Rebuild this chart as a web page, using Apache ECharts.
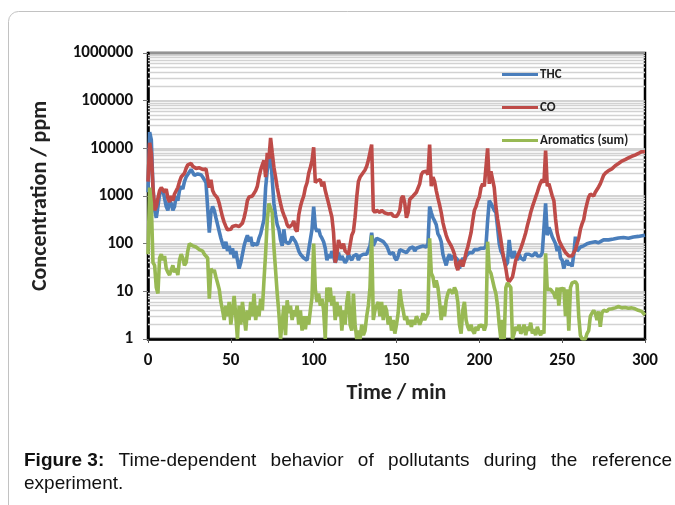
<!DOCTYPE html>
<html>
<head>
<meta charset="utf-8">
<script src="https://cdn.jsdelivr.net/npm/echarts@6/dist/echarts.min.js"></script>
<style>html,body{margin:0;padding:0;background:#fff}#c{width:675px;height:505px}</style>
</head>
<body>
<div id="c"></div>
<script>
// ---- data: [time (min), concentration (ppm)] ----
var xTicks = [0, 50, 100, 150, 200, 250, 300];
var yTicks = [1, 10, 100, 1000, 10000, 100000, 1000000];
var seriesNames = ['THC', 'CO', 'Aromatics (sum)'];
var captionLine1 = ['Figure 3:', 'Time-dependent', 'behavior', 'of', 'pollutants', 'during', 'the', 'reference'];
var captionLine2 = 'experiment.';

var thc = [[0,1200],[1,22000],[2,15000],[3,1500],[4,500],[5,350],[6,600],[7,1100],[8,1000],[9,1300],[10,900],[11,600],[12,500],[13,800],[14,700],[15,500],[16,600],[17,1000],[18,800],[19,1300],[20,1600],[21,1400],[22,2000],[23,2500],[24,2300],[25,3200],[26,3600],[27,3300],[28,2700],[29,2500],[30,2900],[31,3100],[32,2800],[33,2500],[34,2200],[35,1900],[36,1800],[37,170],[38,450],[39,600],[40,500],[41,350],[42,250],[43,180],[44,130],[45,100],[46,80],[47,110],[48,70],[49,90],[50,60],[51,80],[52,50],[53,70],[54,45],[55,30],[56,40],[57,60],[58,90],[59,120],[60,150],[61,110],[62,140],[63,90],[64,100],[65,110],[66,95],[67,130],[68,160],[69,170],[70,320],[71,1500],[72,3500],[73,5500],[74,7000],[75,2200],[76,700],[77,400],[78,250],[79,200],[80,120],[81,90],[82,200],[83,110],[84,120],[85,100],[86,115],[87,140],[88,150],[89,110],[90,90],[91,70],[92,60],[93,65],[94,50],[95,55],[96,45],[97,75],[98,80],[99,200],[100,600],[101,220],[102,180],[103,200],[104,150],[105,130],[106,110],[107,80],[108,45],[109,60],[110,50],[111,70],[112,55],[113,40],[114,50],[115,65],[116,45],[117,55],[118,50],[119,40],[120,45],[121,60],[122,50],[123,45],[124,55],[125,50],[126,60],[127,45],[128,55],[129,50],[130,60],[131,55],[132,60],[133,75],[134,90],[135,170],[136,90],[137,85],[138,130],[139,140],[140,120],[141,130],[142,110],[143,100],[144,90],[145,75],[146,60],[147,55],[148,65],[149,50],[150,45],[151,55],[152,75],[153,80],[154,70],[155,75],[156,65],[157,70],[158,80],[159,75],[160,85],[161,70],[162,80],[163,75],[164,85],[165,80],[166,90],[167,95],[168,85],[169,100],[170,600],[171,450],[172,350],[173,300],[174,250],[175,160],[176,140],[177,110],[178,60],[179,45],[180,35],[181,50],[182,60],[183,45],[184,55],[185,60],[186,50],[187,45],[188,30],[189,40],[190,50],[191,45],[192,55],[193,60],[194,65],[195,70],[196,65],[197,75],[198,70],[199,75],[200,70],[201,80],[202,85],[203,80],[204,90],[205,300],[206,800],[207,700],[208,750],[209,500],[210,450],[211,220],[212,100],[213,70],[214,60],[215,45],[216,35],[217,40],[218,120],[219,60],[220,50],[221,70],[222,55],[223,45],[224,60],[225,50],[226,55],[227,45],[228,60],[229,55],[230,60],[231,65],[232,55],[233,60],[234,65],[235,55],[236,60],[237,55],[238,65],[239,70],[240,700],[241,150],[242,220],[243,180],[244,140],[245,130],[246,100],[247,70],[248,90],[249,50],[250,45],[251,30],[252,40],[253,45],[254,35],[255,40],[256,33],[257,60],[258,140],[259,70],[260,75],[261,85],[262,80],[263,90],[264,95],[265,100],[266,95],[267,105],[268,100],[270,110],[272,105],[273,115],[275,120],[276,125],[278,120],[279,130],[281,125],[282,128],[284,132],[285,130],[287,135],[288,132],[290,130],[291,135],[293,138],[294,140],[296,142],[297,145],[299,148],[300,150]];

var co = [[0,2000],[1,13000],[2,8000],[3,1500],[4,500],[5,600],[6,900],[7,1300],[8,1500],[9,1400],[10,1200],[11,1400],[12,900],[13,750],[14,1000],[15,800],[16,1100],[17,1200],[18,1500],[19,2000],[20,2500],[21,2300],[22,3000],[23,3800],[24,4500],[25,4900],[26,4800],[27,4200],[28,4000],[29,3800],[30,4000],[31,3900],[32,3700],[33,3600],[34,3300],[35,3700],[36,3800],[37,1500],[38,2200],[39,1300],[40,1100],[41,1050],[42,900],[43,700],[44,500],[45,360],[46,280],[47,230],[48,195],[49,210],[50,200],[51,230],[52,210],[53,240],[54,220],[55,230],[56,250],[57,270],[58,350],[59,500],[60,800],[61,950],[62,950],[63,1000],[64,950],[65,1300],[66,1600],[67,2500],[68,3500],[69,4500],[70,5600],[71,2500],[72,8000],[73,6000],[74,16500],[75,8000],[76,4000],[77,2500],[78,1500],[79,1000],[80,700],[81,500],[82,400],[83,330],[84,250],[85,220],[86,200],[87,250],[88,300],[89,200],[90,180],[91,400],[92,600],[93,800],[94,1000],[95,1500],[96,1900],[97,3000],[98,4000],[99,5500],[100,10500],[101,1900],[102,2100],[103,2000],[104,2200],[105,1600],[106,2000],[107,1300],[108,950],[109,700],[110,500],[111,360],[112,170],[113,40],[114,60],[115,120],[116,90],[117,80],[118,100],[119,70],[120,65],[121,60],[122,55],[123,150],[124,180],[125,360],[126,950],[127,2000],[128,2500],[129,2800],[130,3000],[131,3500],[132,4200],[133,5600],[134,5500],[135,12000],[136,500],[137,450],[138,500],[139,480],[140,450],[141,500],[142,470],[143,440],[144,460],[145,420],[146,400],[147,430],[148,380],[149,400],[150,370],[151,420],[152,500],[153,900],[154,1000],[155,700],[156,350],[157,450],[158,850],[159,900],[160,1000],[161,1100],[162,1200],[163,1300],[164,1800],[165,2800],[166,3200],[167,3500],[168,3300],[169,2800],[170,12000],[171,1600],[172,2500],[173,2000],[174,1300],[175,900],[176,650],[177,450],[178,280],[179,200],[180,150],[181,120],[182,110],[183,90],[184,75],[185,60],[186,35],[187,28],[188,40],[189,45],[190,33],[191,45],[192,65],[193,85],[194,120],[195,170],[196,300],[197,500],[198,600],[199,800],[200,950],[201,1500],[202,1800],[203,1600],[204,1700],[205,10000],[206,1800],[207,3300],[208,3000],[209,1500],[210,600],[211,330],[212,200],[213,120],[214,70],[215,45],[216,30],[217,18],[218,16],[219,15],[220,20],[221,30],[222,45],[223,55],[224,65],[225,80],[226,100],[227,130],[228,170],[229,240],[230,320],[231,450],[232,590],[233,750],[234,950],[235,1200],[236,1550],[237,1900],[238,2200],[239,1900],[240,9000],[241,1600],[242,1800],[243,1900],[244,1000],[245,800],[246,330],[247,170],[248,120],[249,100],[250,85],[251,75],[252,65],[253,60],[254,55],[255,50],[256,55],[257,65],[258,75],[259,100],[260,130],[261,200],[262,260],[263,320],[264,500],[265,700],[266,950],[267,1100],[268,1150],[269,1000],[270,1200],[271,1100],[272,1550],[273,1800],[274,2200],[275,2700],[276,3000],[278,3400],[280,3700],[282,4300],[284,4800],[286,5400],[288,5800],[290,6300],[292,6800],[294,7200],[296,7800],[298,8500],[299,9200],[300,8500]];

var aromatics = [[0,60],[1,1500],[2,700],[3,40],[4,35],[5,12],[6,9],[7,50],[8,60],[9,45],[10,55],[11,30],[12,25],[13,22],[14,28],[15,35],[16,25],[17,30],[18,22],[19,45],[20,60],[21,50],[22,35],[23,40],[24,70],[25,100],[26,110],[27,90],[28,95],[29,85],[30,90],[31,75],[32,80],[33,70],[34,60],[35,55],[36,50],[37,7],[38,30],[39,25],[40,28],[41,20],[42,15],[43,11],[44,6],[45,4],[46,2.5],[47,5],[48,3],[49,6],[50,2],[51,4],[52,8],[53,3],[54,1],[55,5],[56,2],[57,6],[58,3],[59,1.5],[60,4],[61,2.5],[62,6],[63,3],[64,9],[65,2.5],[66,5],[67,3],[68,7],[69,4],[70,17],[71,63],[72,320],[73,700],[74,650],[75,450],[76,85],[77,28],[78,9],[79,3.5],[80,1],[81,1],[82,5],[83,1.2],[84,6.5],[85,3.5],[86,5],[87,2.5],[88,4],[89,3],[90,5],[91,2],[92,4],[93,1.5],[94,3],[95,1.6],[96,3],[97,2],[98,4],[99,7.5],[100,100],[101,11],[102,6],[103,9],[104,5],[105,7],[106,4],[107,1],[108,12],[109,6],[110,12],[111,5],[112,8],[113,2.5],[114,6],[115,3],[116,5],[117,1.5],[118,4],[119,2],[120,6],[121,10],[122,2],[123,1.5],[124,9],[125,2],[126,1],[127,1.5],[128,1],[129,2],[130,1.2],[131,1.5],[132,3],[133,5],[134,12],[135,150],[136,2.5],[137,4],[138,5],[139,6],[140,3],[141,6],[142,2.5],[143,5],[144,4],[145,2],[146,3],[147,1.5],[148,2.5],[149,1.3],[150,2],[151,3.5],[152,11],[153,6],[154,4],[155,2.5],[156,3],[157,2],[158,2.5],[159,1.8],[160,2.5],[161,2],[162,3],[163,2.5],[164,2],[165,2.5],[166,3.5],[167,2.5],[168,3],[169,3.5],[170,130],[171,24],[172,20],[173,12],[174,17],[175,12],[176,6],[177,2.5],[178,5],[179,3],[180,6.5],[181,9],[182,11],[183,12],[184,9],[185,12],[186,10],[187,6],[188,2],[189,1.3],[190,4],[191,6],[192,2.5],[193,1.8],[194,1.5],[195,2],[196,1.5],[197,1.3],[198,1.8],[199,1.5],[200,2],[201,1.8],[202,2],[203,1.5],[204,2],[205,110],[206,28],[207,24],[208,17],[209,12],[210,9],[211,5],[212,2],[213,1],[214,2.5],[215,1],[216,12],[217,15],[218,14],[219,12],[220,1],[221,1.3],[222,1.8],[223,1.5],[224,2],[225,1.3],[226,1.5],[227,2],[228,1.2],[229,1.8],[230,1.5],[231,2.2],[232,1.3],[233,1.6],[234,1.2],[235,1.8],[236,1.4],[237,1.2],[238,1.5],[239,1.3],[240,63],[241,11],[242,12],[243,11],[244,12],[245,9],[246,7],[247,12],[248,5],[249,12],[250,10],[251,12],[252,3],[253,11],[254,1.5],[255,12],[256,15],[257,15],[258,16],[259,14],[260,3],[261,1.2],[262,1],[263,1],[264,1],[265,1.3],[266,1.5],[267,3],[268,3.5],[269,4],[270,3.5],[271,2.5],[272,3.8],[273,1.8],[274,3.5],[275,4],[276,4.2],[277,3.8],[278,4.2],[279,4.5],[280,4.3],[282,4.5],[284,4.8],[286,4.5],[288,4.6],[290,4.4],[292,4.5],[294,4.3],[296,4],[298,3.8],[299,3.5],[300,3.2]];

// ---- chart ----
var colors = ['#4a7ebb', '#be4b48', '#98b954'];
var labelFont = 'Carlito, Lato, sans-serif';
var capFontPlain = '19px "Liberation Sans", Arial, sans-serif';
var capFontBold = 'bold 19px "Liberation Sans", Arial, sans-serif';

// minor log gridlines (2..9 in each decade) as style lines
var minorLines = [];
for (var d = 0; d < yTicks.length - 1; d++) {
  for (var m = 2; m <= 9; m++) minorLines.push({ yAxis: yTicks[d] * m });
}

// justified caption line: measure words, spread them between left and right margins
var capLeft = 24, capRight = 672, capTop1 = 451, capTop2 = 474;
var ctx = document.createElement('canvas').getContext('2d');
var widths = captionLine1.map(function (w, i) {
  ctx.font = i === 0 ? capFontBold : capFontPlain;
  return ctx.measureText(w).width;
});
var total = widths.reduce(function (a, b) { return a + b; }, 0);
var gap = (capRight - capLeft - total) / (captionLine1.length - 1);
var capGraphics = [];
var cx = capLeft;
captionLine1.forEach(function (w, i) {
  capGraphics.push({ type: 'text', x: cx, y: capTop1, silent: true,
    style: { text: w, font: i === 0 ? capFontBold : capFontPlain, fill: '#111' } });
  cx += widths[i] + gap;
});
capGraphics.push({ type: 'text', x: capLeft, y: capTop2, silent: true,
  style: { text: captionLine2, font: capFontPlain, fill: '#111' } });

var chart = echarts.init(document.getElementById('c'), null, { renderer: 'canvas' });
var option = {
  animation: false,
  backgroundColor: '#fff',
  color: colors,
  grid: { left: 148, right: 30, top: 53, bottom: 166, show: true, borderColor: '#000', borderWidth: 2.5, backgroundColor: 'transparent' },
  legend: {
    orient: 'vertical', left: 497, top: 63, itemWidth: 36, itemHeight: 3, itemGap: 20,
    icon: 'rect',
    textStyle: { fontFamily: labelFont, fontWeight: 'bold', fontSize: 13, lineHeight: 13, color: '#222', padding: [0, 0, 0, -3] },
    data: seriesNames
  },
  xAxis: {
    type: 'value', min: xTicks[0], max: xTicks[xTicks.length - 1], interval: 50,
    name: 'Time / min', nameLocation: 'middle', nameGap: 43,
    nameTextStyle: { fontFamily: labelFont, fontWeight: 'bold', fontSize: 22, color: '#222' },
    axisLine: { lineStyle: { color: '#000', width: 2.5 } },
    axisTick: { show: true, length: 4, lineStyle: { color: '#555' } },
    axisLabel: { fontFamily: labelFont, fontWeight: 'bold', fontSize: 17, color: '#111', margin: 13 },
    splitLine: { show: false }
  },
  yAxis: {
    type: 'log', logBase: 10, min: yTicks[0], max: yTicks[yTicks.length - 1],
    name: 'Concentration / ppm', nameLocation: 'middle', nameGap: 97, nameRotate: 90,
    nameTextStyle: { fontFamily: labelFont, fontWeight: 'bold', fontSize: 22, color: '#222' },
    axisLine: { show: true, lineStyle: { color: '#000', width: 2.5 } },
    axisTick: { show: true, length: 5, lineStyle: { color: '#777' } },
    axisLabel: { fontFamily: labelFont, fontWeight: 'bold', fontSize: 17, color: '#111', margin: 15,
      formatter: function (v) { return String(Math.round(v)); } },
    splitLine: { show: true, lineStyle: { color: '#c4c4c4', width: 1.5 } }
  },
  series: [
    { name: '_grid', type: 'line', data: [], z: 1, silent: true,
      markLine: { silent: true, z: 1, symbol: 'none', label: { show: false }, animation: false,
        lineStyle: { color: '#d2d2d2', width: 1.3, type: 'solid' }, data: minorLines } },
    { name: seriesNames[0], type: 'line', data: thc, showSymbol: false, symbol: 'none', z: 3,
      lineStyle: { width: 3.6, color: colors[0] }, itemStyle: { color: colors[0] } },
    { name: seriesNames[1], type: 'line', data: co, showSymbol: false, symbol: 'none', z: 4,
      lineStyle: { width: 3.6, color: colors[1] }, itemStyle: { color: colors[1] } },
    { name: seriesNames[2], type: 'line', data: aromatics, showSymbol: false, symbol: 'none', z: 5,
      lineStyle: { width: 3.6, color: colors[2] }, itemStyle: { color: colors[2] } }
  ],
  graphic: [
    { type: 'rect', silent: true, z: -10, shape: { x: 8.5, y: 11.5, width: 720, height: 600, r: 10 },
      style: { fill: 'none', stroke: '#c2c2c2', lineWidth: 1 } }
  ].concat(capGraphics)
};
chart.setOption(option);
</script>
</body>
</html>
